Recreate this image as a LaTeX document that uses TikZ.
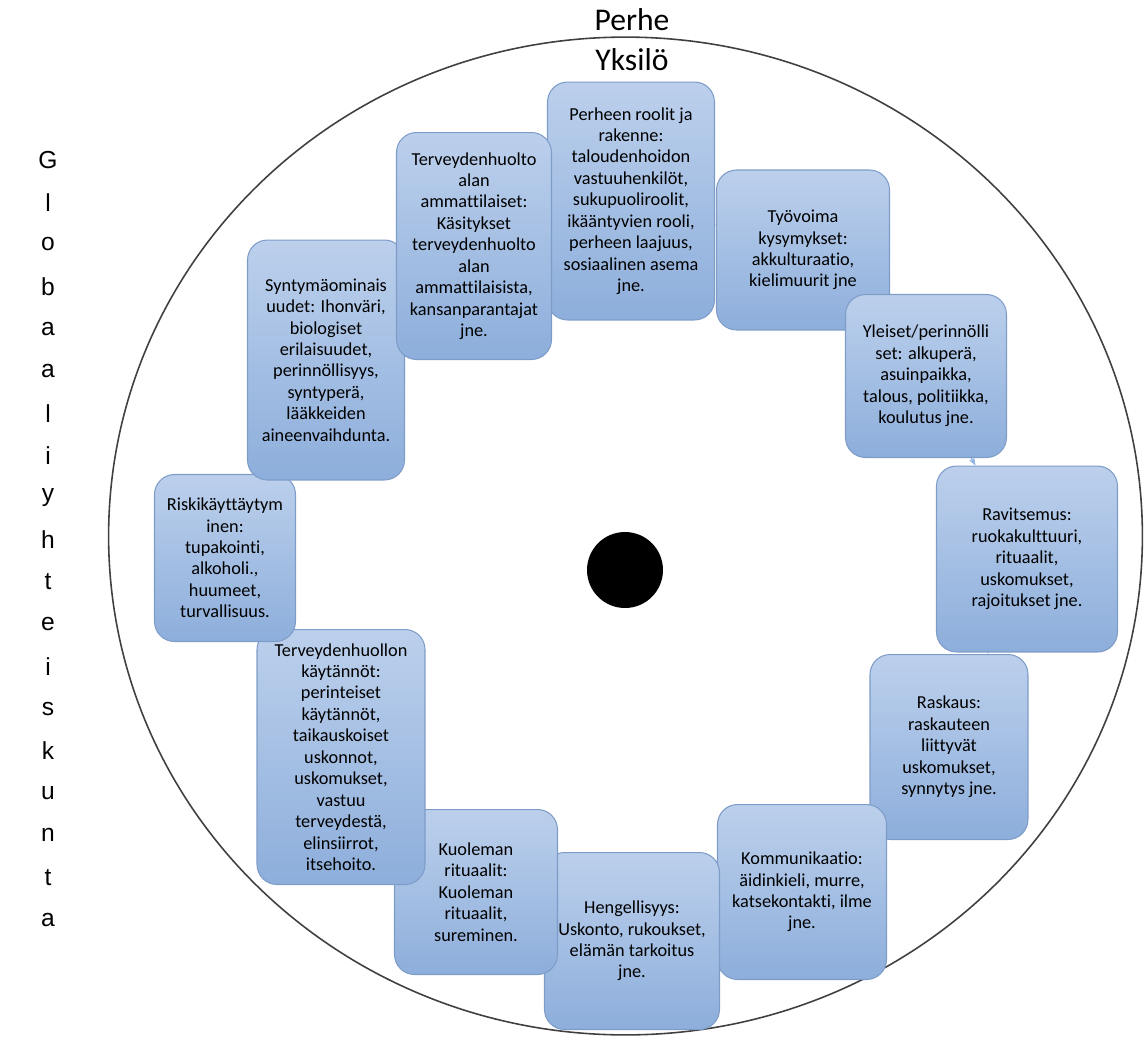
\documentclass[tikz,border=0pt]{standalone}
\usepackage{fontspec}
\setmainfont{Carlito}[Ligatures={NoCommon}]
\newfontfamily\globfont{Liberation Sans}
\usetikzlibrary{arrows.meta,backgrounds}
\definecolor{boxtop}{HTML}{BCD0EC}
\definecolor{boxbot}{HTML}{8DAEDB}
\definecolor{boxedge}{HTML}{7E9CC8}
\definecolor{ringgrey}{HTML}{404040}
\definecolor{arrowblue}{HTML}{8FB3E3}

\begin{document}
\begin{tikzpicture}[x=0.02cm,y=-0.02cm,>={Stealth[length=1.6mm]},
    cbox/.style={draw=boxedge,line width=0.6pt,rounded corners=0.4cm,
      top color=boxtop,bottom color=boxbot,align=center,inner sep=2pt,
      font=\fontsize{10.4}{12.2}\selectfont},
    cyc/.style={arrowblue,line width=0.8pt,->}]
    \useasboundingbox (0,0) rectangle (1147,1042);

    % outer ring and labels
    \draw[ringgrey,line width=0.9pt] (625.5,536) ellipse [x radius=10.34cm, y radius=9.98cm];
    \node[font=\fontsize{18}{20}\selectfont] (perhelab) at (632,20) {Perhe};
    \node[font=\fontsize{18}{20}\selectfont] (yksilo) at (632,60) {Yksilö};
    \foreach \ch [count=\i from 0] in {G,l,o,b,a,a,l,i,y,h,t,e,i,s,k,u,n,t,a}
      \node[font=\globfont\fontsize{14}{16}\selectfont] (glob\i) at (48,160+42.2*\i) {\ch};

    % centre
    \node[circle,fill=black,minimum size=1.52cm,inner sep=0pt] (core) at (625,570) {};

    % cycle boxes, clockwise from the top
    \node[cbox,minimum width=3.34cm,minimum height=4.76cm] (perhe) at (631,201)
      {Perheen roolit ja\\ rakenne:\\ taloudenhoidon\\ vastuuhenkilöt,\\ sukupuoliroolit,\\ ikääntyvien rooli,\\ perheen laajuus,\\ sosiaalinen asema\\ jne.};
    \node[cbox,minimum width=3.46cm,minimum height=3.2cm] (tyovoima) at (803,250)
      {Työvoima\\ kysymykset:\\ akkulturaatio,\\ kielimuurit jne};
    \node[cbox,minimum width=3.22cm,minimum height=3.26cm] (yleiset) at (926,376)
      {Yleiset/perinnölli\\ set: alkuperä,\\ asuinpaikka,\\ talous, politiikka,\\ koulutus jne.};
    \node[cbox,minimum width=3.62cm,minimum height=3.72cm] (ravitsemus) at (1027,559)
      {Ravitsemus:\\ ruokakulttuuri,\\ rituaalit,\\ uskomukset,\\ rajoitukset jne.};
    \node[cbox,minimum width=3.16cm,minimum height=3.7cm] (raskaus) at (949,747)
      {Raskaus:\\ raskauteen\\ liittyvät\\ uskomukset,\\ synnytys jne.};
    \node[cbox,minimum width=3.38cm,minimum height=3.5cm] (kommunikaatio) at (802,892)
      {Kommunikaatio:\\ äidinkieli, murre,\\ katsekontakti, ilme\\ jne.};
    \node[cbox,minimum width=3.5cm,minimum height=3.54cm] (hengellisyys) at (632,941)
      {Hengellisyys:\\ Uskonto, rukoukset,\\ elämän tarkoitus\\ jne.};
    \node[cbox,minimum width=3.26cm,minimum height=3.3cm] (kuolema) at (476,892)
      {Kuoleman\\ rituaalit:\\ Kuoleman\\ rituaalit,\\ sureminen.};
    \node[cbox,minimum width=3.36cm,minimum height=5.1cm] (kaytannot) at (341,757)
      {Terveydenhuollon\\ käytännöt:\\ perinteiset\\ käytännöt,\\ taikauskoiset\\ uskonnot,\\ uskomukset,\\ vastuu\\ terveydestä,\\ elinsiirrot,\\ itsehoito.};
    \node[cbox,minimum width=2.82cm,minimum height=3.34cm] (riski) at (225,558)
      {Riskikäyttäytym\\ inen:\\ tupakointi,\\ alkoholi.,\\ huumeet,\\ turvallisuus.};
    \node[cbox,minimum width=3.14cm,minimum height=4.8cm] (syntyma) at (326,360)
      {Syntymäominais\\ uudet: Ihonväri,\\ biologiset\\ erilaisuudet,\\ perinnöllisyys,\\ syntyperä,\\ lääkkeiden\\ aineenvaihdunta.};
    \node[cbox,minimum width=3.1cm,minimum height=4.54cm] (ammattilaiset) at (474,246)
      {Terveydenhuolto\\ alan\\ ammattilaiset:\\ Käsitykset\\ terveydenhuolto\\ alan\\ ammattilaisista,\\ kansanparantajat\\ jne.};

    % cycle arrows (mostly hidden behind the boxes)
    \begin{scope}[on background layer]
      \foreach \a/\b in {perhe/tyovoima, tyovoima/yleiset, yleiset/ravitsemus,
          ravitsemus/raskaus, raskaus/kommunikaatio, kommunikaatio/hengellisyys,
          hengellisyys/kuolema, kuolema/kaytannot, kaytannot/riski, riski/syntyma,
          syntyma/ammattilaiset, ammattilaiset/perhe}
        \draw[cyc] (\a) -- (\b);
    \end{scope}
  \end{tikzpicture}
\end{document}
